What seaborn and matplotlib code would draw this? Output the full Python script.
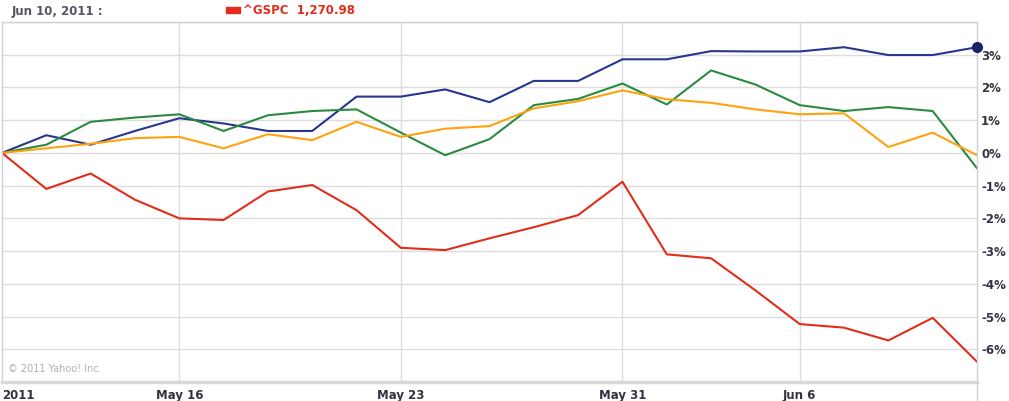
import matplotlib
matplotlib.use("Agg")
import matplotlib.pyplot as plt
import matplotlib.patches as mpatches
import seaborn as sns
import pandas as pd

# trading days, May 10 - Jun 10 2011
dates = ["2011-05-10", "2011-05-11", "2011-05-12", "2011-05-13",
         "2011-05-16", "2011-05-17", "2011-05-18", "2011-05-19", "2011-05-20",
         "2011-05-23", "2011-05-24", "2011-05-25", "2011-05-26", "2011-05-27",
         "2011-05-31", "2011-06-01", "2011-06-02", "2011-06-03",
         "2011-06-06", "2011-06-07", "2011-06-08", "2011-06-09", "2011-06-10"]

# % change since start
gspc = [0, -1.10, -0.63, -1.43, -2.00, -2.05, -1.18, -0.98, -1.75,
        -2.90, -2.97, -2.61, -2.27, -1.90, -0.88, -3.10, -3.22, -4.20,
        -5.23, -5.34, -5.73, -5.04, -6.38]
blue = [0, 0.54, 0.25, 0.67, 1.06, 0.90, 0.67, 0.67, 1.72,
        1.72, 1.94, 1.55, 2.20, 2.20, 2.86, 2.86, 3.11, 3.10,
        3.10, 3.23, 2.99, 2.99, 3.23]
green = [0, 0.25, 0.95, 1.08, 1.18, 0.67, 1.15, 1.28, 1.33,
         0.62, -0.07, 0.42, 1.46, 1.65, 2.12, 1.48, 2.52, 2.09,
         1.46, 1.28, 1.40, 1.28, -0.47]
orange = [0, 0.14, 0.28, 0.45, 0.49, 0.14, 0.57, 0.39, 0.95,
          0.49, 0.74, 0.82, 1.36, 1.58, 1.91, 1.64, 1.53, 1.33,
          1.18, 1.21, 0.18, 0.62, -0.07]

tick_dates = ["2011-05-10", "2011-05-16", "2011-05-23", "2011-05-31", "2011-06-06"]
tick_labels = ["2011", "May 16", "May 23", "May 31", "Jun 6"]
y_ticks = [-6, -5, -4, -3, -2, -1, 0, 1, 2, 3]

header_date = "Jun 10, 2011 :"
header_sym = "^GSPC  1,270.98"

df = pd.DataFrame({"date": pd.to_datetime(dates), "gspc": gspc,
                   "blue": blue, "green": green, "orange": orange})
df["pos"] = range(len(df))

colors = {"blue": "#27368f", "green": "#2b8a3e", "orange": "#ffa20f", "gspc": "#e12d1a"}

sns.set_style("white")
fig = plt.figure(figsize=(10.09, 4.01), dpi=100)
ax = fig.add_axes([2 / 1009, 1 - 382 / 401, 975 / 1009, 360 / 401])

for col in ["blue", "green", "orange", "gspc"]:
    sns.lineplot(data=df, x="pos", y=col, ax=ax, color=colors[col], linewidth=1.5)

ax.plot(df["pos"].iloc[-1], df["blue"].iloc[-1], "o", color="#1a2466",
        markersize=7, clip_on=False, zorder=10)

ax.set_xlim(0, len(df) - 1)
ax.set_ylim(-7, 4)
ax.set_xlabel("")
ax.set_ylabel("")

# grid
for y in range(-6, 5):
    ax.axhline(y, color="#dddddd", linewidth=1, zorder=0)
pos_lookup = dict(zip(df["date"], df["pos"]))
tick_pos = [pos_lookup[pd.Timestamp(d)] for d in tick_dates]
for p in tick_pos[1:]:
    ax.axvline(p, color="#dddddd", linewidth=1, zorder=0)

ax.yaxis.tick_right()
ax.set_yticks(y_ticks)
ax.set_yticklabels([f"{t}%" for t in y_ticks])
ax.set_xticks(tick_pos)
ax.set_xticklabels(tick_labels)
ax.get_xticklabels()[0].set_horizontalalignment("left")
ax.tick_params(axis="both", length=0, labelsize=8.5, labelcolor="#333344")
ax.tick_params(axis="x", pad=5)
ax.tick_params(axis="y", pad=3)
for lab in ax.get_xticklabels() + ax.get_yticklabels():
    lab.set_fontweight("bold")

for s in ["top", "left", "right"]:
    ax.spines[s].set_color("#d0d0d0")
    ax.spines[s].set_linewidth(1)
ax.spines["bottom"].set_color("#d8d8d8")
ax.spines["bottom"].set_linewidth(2.5)

# right border continues below the axis
fig.add_artist(plt.Line2D([977 / 1009, 977 / 1009], [0, 1 - 382 / 401], color="#d0d0d0", linewidth=1))

ax.text(0.006, 0.035, "\u00a9 2011 Yahoo! Inc.", transform=ax.transAxes,
        fontsize=7, color="#b0b0b0", va="center", ha="left")

fig.text(12 / 1009, 1 - 11 / 401, header_date, fontsize=8.5, fontweight="bold",
         color="#555566", va="center", ha="left")
fig.add_artist(mpatches.Rectangle((226 / 1009, 1 - 13 / 401), 14 / 1009, 6 / 401,
                                  color="#e12d1a", transform=fig.transFigure))
fig.text(243 / 1009, 1 - 11 / 401, header_sym, fontsize=8.5, fontweight="bold",
         color="#e12d1a", va="center", ha="left")

fig.savefig("out.png", dpi=100)
